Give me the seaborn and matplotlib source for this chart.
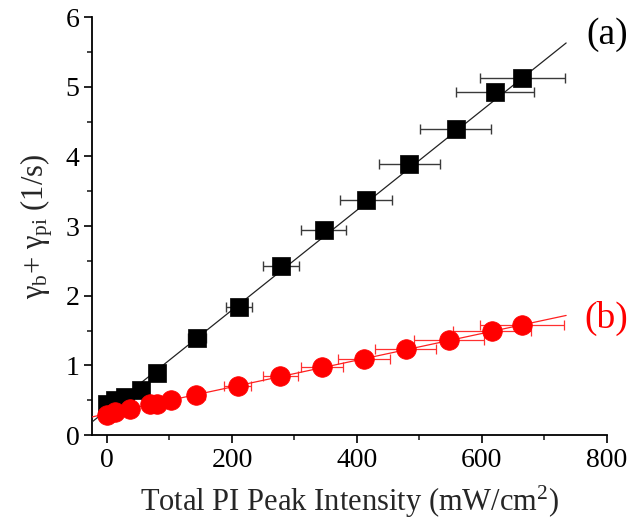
import numpy as np
import pandas as pd
import matplotlib
matplotlib.use("Agg")
import matplotlib.pyplot as plt
import seaborn as sns

# ---- data ----
a_x = [0, 12, 29, 55, 80, 144, 211, 279, 347, 415, 484, 558, 621, 665]
a_y = [0.44, 0.50, 0.55, 0.65, 0.89, 1.40, 1.84, 2.43, 2.94, 3.37, 3.89, 4.39, 4.92, 5.13]
a_xerr = [0, 1, 3, 5, 8, 15, 21, 29, 36, 42, 49, 57, 63, 68]

b_x = [0, 13, 36, 69, 80, 102, 143, 209, 277, 344, 411, 478, 547, 616, 664]
b_y = [0.29, 0.33, 0.38, 0.44, 0.45, 0.50, 0.57, 0.71, 0.85, 0.97, 1.09, 1.23, 1.37, 1.50, 1.58]
b_xerr = [0, 1, 4, 7, 8, 10, 14, 21, 28, 34, 42, 49, 56, 62, 67]

# linear fits (intercept, slope) and their drawn x-range
a_fit = (0.36, 0.00717)
b_fit = (0.306, 0.00192)
fit_range = (-24, 735)

x_ticks = [0, 200, 400, 600, 800]
y_ticks = [0, 1, 2, 3, 4, 5, 6]

sns.set_theme(style="ticks")
plt.rcParams["font.family"] = ["Liberation Serif", "DejaVu Serif"]
plt.rcParams["mathtext.fontset"] = "custom"
plt.rcParams["mathtext.rm"] = "Liberation Serif"
plt.rcParams["mathtext.it"] = "Liberation Serif:italic"

fig = plt.figure(figsize=(6.36, 5.21), dpi=100)
ax = fig.add_axes([0.1447, 0.165, 0.8093, 0.802])

fx = np.array(fit_range)
df_fit = pd.DataFrame({
    "x": np.concatenate([fx, fx]),
    "y": np.concatenate([a_fit[0] + a_fit[1] * fx, b_fit[0] + b_fit[1] * fx]),
    "s": ["a", "a", "b", "b"],
})

ax.errorbar(a_x, a_y, xerr=a_xerr, fmt="none", ecolor="#3a3a3a", elinewidth=1.0,
            capsize=3.5, capthick=1.0, zorder=2)
ax.errorbar(b_x, b_y, xerr=b_xerr, fmt="none", ecolor="#ff3030", elinewidth=0.9,
            capsize=3.5, capthick=0.9, zorder=2)

sns.lineplot(data=df_fit, x="x", y="y", hue="s", palette={"a": "#222222", "b": "#ff2020"},
             linewidth=0.9, legend=False, ax=ax, zorder=3)

sns.scatterplot(x=a_x, y=a_y, marker="s", s=160, color="black", edgecolor="black",
                linewidth=0.5, ax=ax, zorder=4)
sns.scatterplot(x=b_x, y=b_y, marker="o", s=200, color="#ff0000", edgecolor="#ff0000",
                linewidth=0.5, ax=ax, zorder=4)

ax.set_xlim(-24, 800)
ax.set_ylim(0, 6)
ax.set_xticks(x_ticks)
ax.set_yticks(y_ticks)
ax.set_xticks(np.arange(100, 800, 200), minor=True)
ax.set_yticks(np.arange(0.5, 6, 1.0), minor=True)
ax.tick_params(axis="both", which="major", direction="out", length=6, width=1.2,
               labelsize=20, colors="black", pad=3)
ax.tick_params(axis="both", which="minor", direction="out", length=3.5, width=1.2)
sns.despine(ax=ax)
for sp in ("left", "bottom"):
    ax.spines[sp].set_linewidth(1.3)
    ax.spines[sp].set_color("black")

ax.set_xlabel("Total PI Peak Intensity (mW/cm$^2$)", fontsize=22, labelpad=8)
ax.set_ylabel("γ$_{\\rm b}$+ γ$_{\\rm pi}$ (1/s)", fontsize=22, labelpad=8)

ax.text(1.0, 0.957, "(a)", transform=ax.transAxes, fontsize=27, color="black",
        ha="center", va="center")
ax.text(1.0, 0.28, "(b)", transform=ax.transAxes, fontsize=27, color="#ff0000",
        ha="center", va="center")

fig.savefig("out.png", dpi=100)
